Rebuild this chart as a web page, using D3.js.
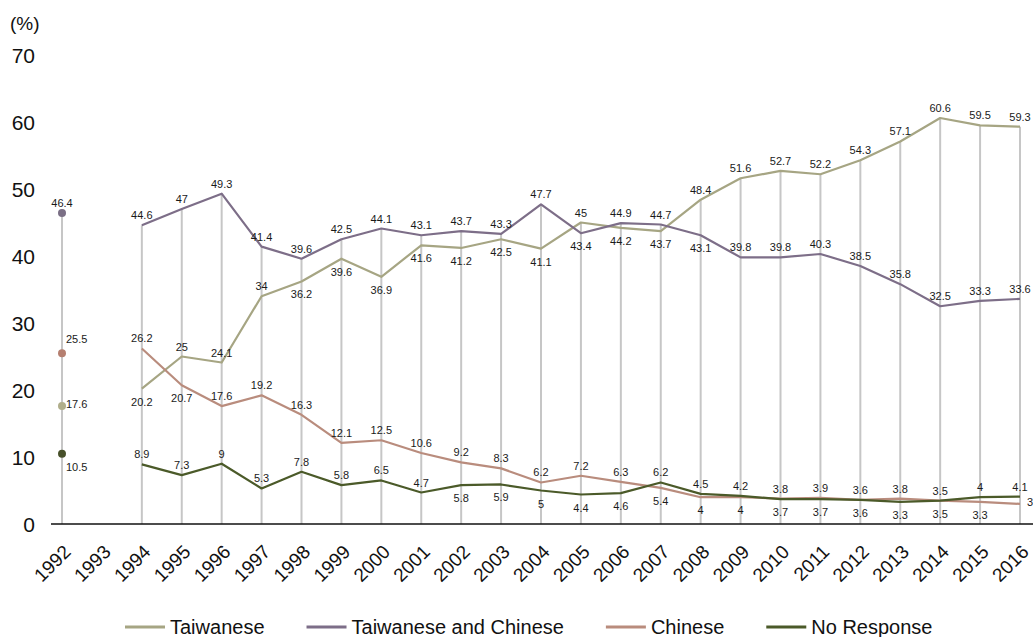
<!DOCTYPE html>
<html>
<head>
<meta charset="utf-8">
<script src="https://cdn.jsdelivr.net/npm/d3@7"></script>
<style>
  html, body { margin: 0; padding: 0; background: #fff; }
  svg { display: block; font-family: "Liberation Sans", Arial, Helvetica, sans-serif; }
</style>
</head>
<body>
<svg id="chart" width="1033" height="637"></svg>
<script>
// Survey years (1993 has no survey)
const years = [1992,1993,1994,1995,1996,1997,1998,1999,2000,2001,2002,2003,2004,2005,2006,2007,2008,2009,2010,2011,2012,2013,2014,2015,2016];

// Share of respondents (%) per identity
const taiwanese = [17.6,null,20.2,25,24.1,34,36.2,39.6,36.9,41.6,41.2,42.5,41.1,45,44.2,43.7,48.4,51.6,52.7,52.2,54.3,57.1,60.6,59.5,59.3];
const both      = [46.4,null,44.6,47,49.3,41.4,39.6,42.5,44.1,43.1,43.7,43.3,47.7,43.4,44.9,44.7,43.1,39.8,39.8,40.3,38.5,35.8,32.5,33.3,33.6];
const chinese   = [25.5,null,26.2,20.7,17.6,19.2,16.3,12.1,12.5,10.6,9.2,8.3,6.2,7.2,6.3,5.4,4,4,3.8,3.9,3.6,3.8,3.5,3.3,3];
const noResp    = [10.5,null,8.9,7.3,9,5.3,7.8,5.8,6.5,4.7,5.8,5.9,5,4.4,4.6,6.2,4.5,4.2,3.7,3.7,3.6,3.3,3.5,4,4.1];

const seriesNames = ["Taiwanese","Taiwanese and Chinese","Chinese","No Response"];
const yTicks = [0,10,20,30,40,50,60,70];

// Styling, kept apart from the values
const lineColors = ["#a6a583","#7d6e88","#b98c7d","#4b5a29"];
const dotColors  = ["#b0ae8b","#7a6f85","#b57f70","#47502a"];
// Where each value label sits relative to its point, one code per year:
// a = above, b = below, r = right, ar / br = above-right / below-right, - = no value
const labelSide = [
  "r - b a a a b b b b b b b a b b a a a a a a a a a",
  "a - a a a a a a a a a a a b a a b a a a a a a a a",
  "ar - a b a a a a a a a a a a a b b b a a b a b b r",
  "br - a a a a a a a a b b b b b a a a b b a b a a a"
];

const values = [taiwanese, both, chinese, noResp];

const svg = d3.select("#chart");
const x = d3.scaleLinear().domain([1992, 2016]).range([62, 1020]);
const y = d3.scaleLinear().domain([0, 70]).range([524, 55]);

// Y tick labels
svg.append("g")
  .selectAll("text")
  .data(yTicks)
  .join("text")
  .attr("x", 35)
  .attr("y", d => y(d))
  .attr("dy", "0.36em")
  .attr("text-anchor", "end")
  .attr("font-size", 21)
  .attr("fill", "#111")
  .text(d => d);

svg.append("text")
  .attr("x", 10).attr("y", 30)
  .attr("font-size", 19)
  .attr("fill", "#111")
  .text("(%)");

// Vertical drop lines from the axis to the highest value of each year
const drops = years.map((yr, i) => {
  const vals = values.map(v => v[i]).filter(v => v != null);
  return vals.length ? { yr, top: d3.max(vals) } : null;
}).filter(d => d);

svg.append("g")
  .selectAll("line")
  .data(drops)
  .join("line")
  .attr("x1", d => x(d.yr)).attr("x2", d => x(d.yr))
  .attr("y1", y(0)).attr("y2", d => y(d.top))
  .attr("stroke", "#c6c6c6")
  .attr("stroke-width", 2);

// X axis baseline
svg.append("line")
  .attr("x1", 51).attr("x2", 1033)
  .attr("y1", y(0)).attr("y2", y(0))
  .attr("stroke", "#111")
  .attr("stroke-width", 1.5);

// Rotated year labels
svg.append("g")
  .selectAll("text")
  .data(years)
  .join("text")
  .attr("transform", d => `translate(${x(d) + 10},${553}) rotate(-45)`)
  .attr("text-anchor", "end")
  .attr("font-size", 19)
  .attr("fill", "#111")
  .text(d => d);

// Series lines
const line = d3.line()
  .defined(d => d.v != null)
  .x(d => x(d.yr))
  .y(d => y(d.v));

values.forEach((vals, s) => {
  const pts = years.map((yr, i) => ({ yr, v: vals[i] }));
  svg.append("path")
    .datum(pts)
    .attr("fill", "none")
    .attr("stroke", lineColors[s])
    .attr("stroke-width", 2.2)
    .attr("stroke-linejoin", "round")
    .attr("d", line);

  // isolated points (no neighbour on either side) are drawn as dots
  const isolated = pts.filter((p, i) => p.v != null &&
    (i === 0 || pts[i - 1].v == null) && (i === pts.length - 1 || pts[i + 1].v == null));
  svg.append("g")
    .selectAll("circle")
    .data(isolated)
    .join("circle")
    .attr("cx", d => x(d.yr))
    .attr("cy", d => y(d.v))
    .attr("r", 4)
    .attr("fill", dotColors[s]);
});

// Value labels
values.forEach((vals, s) => {
  const codes = labelSide[s].split(" ");
  const pts = years.map((yr, i) => ({ yr, v: vals[i], side: codes[i] || "a" }))
    .filter(p => p.v != null);
  svg.append("g")
    .selectAll("text")
    .data(pts)
    .join("text")
    .attr("x", d => x(d.yr) + (d.side.includes("r") ? (d.side === "r" && d.yr > 2000 ? 7 : 4) : 0))
    .attr("y", d => {
      const py = y(d.v);
      if (d.side === "a") return py - 6;
      if (d.side === "b") return py + 17;
      if (d.side === "ar") return py - 10;
      if (d.side === "br") return py + 17;
      return py + 2;
    })
    .attr("text-anchor", d => d.side.includes("r") ? "start" : "middle")
    .attr("font-size", 11)
    .attr("fill", "#1a1a1a")
    .text(d => d.v);
});

// Legend
const legend = svg.append("g").attr("transform", "translate(125,627)");
let lx = 0;
seriesNames.forEach((name, s) => {
  const g = legend.append("g").attr("transform", `translate(${lx},0)`);
  g.append("line")
    .attr("x1", 0).attr("x2", 40)
    .attr("y1", 0).attr("y2", 0)
    .attr("stroke", lineColors[s])
    .attr("stroke-width", 3);
  const t = g.append("text")
    .attr("x", 45).attr("y", 7)
    .attr("font-size", 20)
    .attr("fill", "#111")
    .text(name);
  lx += 45 + t.node().getComputedTextLength() + 42;
});
</script>
</body>
</html>
